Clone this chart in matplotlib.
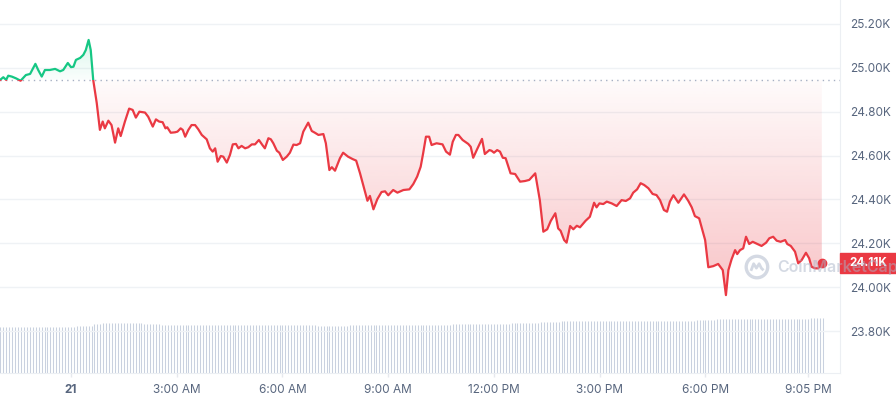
import numpy as np
import matplotlib
matplotlib.use("Agg")
import matplotlib.pyplot as plt
from matplotlib.colors import to_rgb
from matplotlib.patches import Rectangle
from matplotlib.path import Path
from matplotlib.transforms import blended_transform_factory

plt.rcParams["font.family"] = ["Inter", "DejaVu Sans"]

# ------------------------------------------
# Data (hours relative to midnight of the 21st, price in USD)
# ------------------------------------------

hours = [
    -2.01, -1.92, -1.84, -1.78, -1.68, -1.56, -1.43, -1.28, -1.16, -1.01,
    -0.93, -0.83, -0.74, -0.60, -0.45, -0.31, -0.22, -0.09, 0.00, 0.07,
    0.14, 0.26, 0.35, 0.42, 0.50, 0.56, 0.63, 0.73, 0.82, 0.90,
    0.96, 1.06, 1.15, 1.25, 1.34, 1.41, 1.53, 1.65, 1.75, 1.84,
    1.94, 2.10, 2.19, 2.32, 2.41, 2.50, 2.60, 2.68, 2.73, 2.83,
    2.95, 3.02, 3.11, 3.17, 3.24, 3.33, 3.42, 3.52, 3.61, 3.71,
    3.85, 3.94, 4.02, 4.09, 4.16, 4.25, 4.32, 4.42, 4.51, 4.59,
    4.68, 4.75, 4.84, 4.94, 5.03, 5.13, 5.22, 5.33, 5.43, 5.50,
    5.60, 5.67, 5.74, 5.84, 5.91, 6.01, 6.12, 6.21, 6.31, 6.40,
    6.50, 6.59, 6.73, 6.83, 6.92, 7.02, 7.16, 7.23, 7.33, 7.40,
    7.49, 7.63, 7.72, 7.86, 7.99, 8.09, 8.20, 8.29, 8.41, 8.48,
    8.58, 8.69, 8.81, 8.91, 9.00, 9.14, 9.26, 9.43, 9.60, 9.71,
    9.82, 9.92, 9.99, 10.07, 10.16, 10.23, 10.37, 10.54, 10.64, 10.75,
    10.83, 10.92, 10.99, 11.11, 11.27, 11.34, 11.41, 11.51, 11.66, 11.74,
    11.87, 11.93, 12.00, 12.09, 12.17, 12.25, 12.33, 12.47, 12.60, 12.74,
    12.88, 13.00, 13.17, 13.30, 13.40, 13.51, 13.61, 13.74, 13.82, 13.89,
    13.99, 14.06, 14.16, 14.25, 14.35, 14.44, 14.60, 14.72, 14.84, 14.91,
    14.99, 15.10, 15.20, 15.34, 15.48, 15.62, 15.74, 15.86, 15.95, 16.06,
    16.16, 16.26, 16.38, 16.50, 16.61, 16.71, 16.82, 16.91, 16.99, 17.09,
    17.23, 17.39, 17.51, 17.61, 17.70, 17.82, 17.99, 18.08, 18.22, 18.36,
    18.49, 18.58, 18.65, 18.74, 18.84, 18.90, 18.98, 19.07, 19.15, 19.24,
    19.34, 19.47, 19.59, 19.72, 19.81, 19.92, 20.02, 20.13, 20.26, 20.32,
    20.42, 20.54, 20.63, 20.73, 20.85, 20.94, 21.01, 21.11, 21.20, 21.30,
]

prices = [
    24945, 24957, 24945, 24964, 24960, 24952, 24941, 24967, 24972, 25018,
    24990, 24960, 24990, 24990, 24995, 24984, 24990, 25022, 25003, 25005,
    25036, 25045, 25059, 25081, 25127, 25081, 24945, 24840, 24717, 24755,
    24724, 24759, 24739, 24659, 24724, 24689, 24755, 24814, 24808, 24773,
    24800, 24796, 24777, 24732, 24765, 24755, 24752, 24724, 24729, 24704,
    24706, 24709, 24724, 24717, 24686, 24717, 24739, 24739, 24720, 24694,
    24674, 24633, 24618, 24633, 24572, 24598, 24595, 24568, 24603, 24651,
    24653, 24633, 24644, 24633, 24638, 24651, 24651, 24671, 24648, 24633,
    24679, 24674, 24656, 24622, 24613, 24580, 24595, 24613, 24650, 24648,
    24656, 24709, 24750, 24712, 24704, 24694, 24698, 24656, 24534, 24547,
    24531, 24588, 24613, 24595, 24584, 24577, 24519, 24466, 24394, 24416,
    24355, 24401, 24434, 24437, 24419, 24443, 24431, 24443, 24446, 24470,
    24504, 24549, 24610, 24686, 24686, 24648, 24656, 24651, 24618, 24604,
    24663, 24694, 24694, 24671, 24653, 24640, 24590, 24625, 24676, 24607,
    24625, 24622, 24613, 24625, 24618, 24590, 24588, 24519, 24516, 24481,
    24484, 24489, 24519, 24397, 24253, 24264, 24302, 24337, 24268, 24257,
    24215, 24203, 24279, 24264, 24280, 24273, 24303, 24321, 24385, 24364,
    24382, 24379, 24390, 24382, 24370, 24397, 24393, 24405, 24431, 24446,
    24474, 24466, 24451, 24425, 24420, 24397, 24352, 24344, 24390, 24419,
    24385, 24423, 24394, 24364, 24324, 24314, 24215, 24091, 24096, 24106,
    24078, 23964, 24078, 24127, 24169, 24151, 24169, 24177, 24230, 24197,
    24207, 24197, 24188, 24203, 24223, 24230, 24212, 24207, 24215, 24197,
    24188, 24162, 24109, 24124, 24157, 24132, 24093, 24086, 24086, 24110,
]

open_price = 24945

# volume per 5-minute candle, read as step levels between breakpoints (hours)
vol_breaks = [0.11, 0.60, 0.88, 2.04, 2.52, 6.92, 7.86, 8.48,
              10.75, 12.45, 13.30, 13.87, 17.70, 18.27, 20.96]
vol_levels = [9.20, 9.46, 9.74, 10.0, 9.80, 9.60, 9.46, 9.60,
              9.66, 9.80, 10.0, 10.2, 10.4, 10.6, 10.8, 11.0]

y_ticks = [23800, 24000, 24200, 24400, 24600, 24800, 25000, 25200]
x_ticks = [0, 3, 6, 9, 12, 15, 18, 20.92]
x_labels = ["21", "3:00 AM", "6:00 AM", "9:00 AM", "12:00 PM",
            "3:00 PM", "6:00 PM", "9:05 PM"]

GREEN = "#16c784"
RED = "#ea3943"
TEXT = "#58667e"
GRID = "#eff2f5"

hours = np.array(hours)
prices = np.array(prices, dtype=float)

bar_times = np.arange(-2.0, 21.34, 1 / 12)
bar_vols = np.array(vol_levels)[np.searchsorted(vol_breaks, bar_times)]

# ------------------------------------------
# Figure
# ------------------------------------------

fig = plt.figure(figsize=(8.96, 4), dpi=100)
ax = fig.add_axes([0, 27 / 400, 840 / 896, 373 / 400])
ax_v = ax.twinx()

ax.set_zorder(ax_v.get_zorder() + 1)
ax.patch.set_visible(False)

xmin, xmax = -2.014, 21.816
ymin, ymax = 23609, 25309

# volume bars
ax_v.vlines(bar_times, 0, bar_vols, color="#c9d1df", lw=0.75)
ax_v.set_ylim(0, 74.6)
ax_v.set_yticks([])
for s in ax_v.spines.values():
    s.set_visible(False)

# gradient fills
def gradient_fill(lower, upper, color, a_low, a_high, bound):
    rgba = np.zeros((256, 1, 4))
    rgba[..., :3] = to_rgb(color)
    rgba[:, 0, 3] = np.linspace(a_low, a_high, 256)
    im = ax.imshow(rgba, extent=[hours[0], hours[-1], lower, upper],
                   origin="lower", aspect="auto", zorder=1,
                   interpolation="bilinear")
    verts = np.concatenate([
        np.column_stack([hours, bound]),
        np.column_stack([hours[::-1], np.full(len(hours), open_price)]),
    ])
    im.set_clip_path(Path(verts), transform=ax.transData)


gradient_fill(prices.min(), open_price, RED, 0.30, 0.02,
              np.minimum(prices, open_price))
gradient_fill(open_price, prices.max(), GREEN, 0.02, 0.15,
              np.maximum(prices, open_price))

# baseline
ax.axhline(open_price, color="#a6b0c3", lw=1, ls=(0, (1, 3)), zorder=2)

# price line, green above the open and red below
for color, y0, h in [(GREEN, open_price, ymax - open_price),
                     (RED, ymin, open_price - ymin)]:
    ln, = ax.plot(hours, prices, color=color, lw=1.6, zorder=4,
                  solid_joinstyle="round")
    clip = Rectangle((xmin, y0), xmax - xmin, h, transform=ax.transData)
    ln.set_clip_path(clip)

ax.plot(hours[-1], prices[-1], "o", ms=6, color=RED, zorder=5)

# price tag
bt = blended_transform_factory(ax.transAxes, ax.transData)
ax.add_patch(Rectangle((1.0, prices[-1] - 43), 56 / 840, 87,
                       transform=bt, color=RED, clip_on=False, zorder=6))
ax.text(1.0 + 28 / 840, prices[-1], f"{prices[-1] / 1000:.2f}K",
        transform=bt, color="white", fontsize=8.5, fontweight="bold",
        ha="center", va="center", zorder=7, clip_on=False)

# watermark (drawn over everything, semi-transparent)
wm_color = "#aab5c8"
logo = Path([(-0.55, -0.35), (-0.30, 0.30), (-0.05, -0.10),
             (0.20, 0.30), (0.40, -0.10), (0.60, -0.30)])
ax.scatter([19.46], [24092], s=240, facecolors="none",
           edgecolors=wm_color, linewidths=2.4, alpha=0.5, zorder=8,
           clip_on=False)
ax.scatter([19.46], [24092], s=90, marker=logo, facecolors="none",
           edgecolors=wm_color, linewidths=2.0, alpha=0.5, zorder=8,
           clip_on=False)
ax.text(20.05, 24090, "CoinMarketCap", color=wm_color, alpha=0.5,
        fontsize=11.5, fontweight="semibold", va="center", ha="left",
        zorder=8, clip_on=False)

# axes
ax.set_xlim(xmin, xmax)
ax.set_ylim(ymin, ymax)

ax.yaxis.tick_right()
ax.set_yticks(y_ticks)
ax.set_yticklabels([f"{v / 1000:.2f}K" for v in y_ticks])
ax.tick_params(axis="y", length=0, pad=7, labelsize=8.5, labelcolor=TEXT)

ax.set_xticks(x_ticks)
ax.set_xticklabels(x_labels)
ax.tick_params(axis="x", length=3, width=1, color="#e6e9ee", pad=5,
               labelsize=8.5, labelcolor=TEXT)
ax.get_xticklabels()[0].set_fontweight("bold")

ax.grid(axis="y", color=GRID, lw=1)
ax.set_axisbelow(True)

for side in ["top", "left"]:
    ax.spines[side].set_visible(False)
for side in ["right", "bottom"]:
    ax.spines[side].set_color("#eceff3")

fig.savefig("out.png", dpi=100)
